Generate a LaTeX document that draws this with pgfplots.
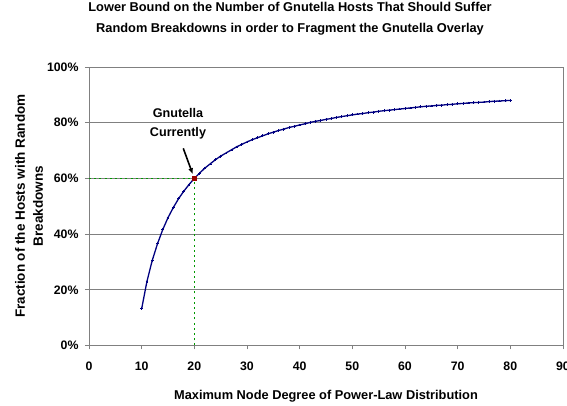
\documentclass[border=0pt]{standalone}
\usepackage{fontspec}
\setmainfont{Liberation Sans}
\usepackage{pgfplots}
\pgfplotsset{compat=1.18}
\usetikzlibrary{arrows.meta}
\definecolor{curve}{RGB}{0,0,128}
\definecolor{gridgray}{RGB}{128,128,128}
\definecolor{guide}{RGB}{0,153,0}
\definecolor{dot}{RGB}{153,0,0}

\begin{document}
\begin{tikzpicture}[x=1pt,y=1pt]
\begin{axis}[
  at={(0,0)}, anchor=south west,
  width=474pt, height=278.5pt, scale only axis,
  xmin=0, xmax=90, ymin=0, ymax=100,
  xtick={0,10,...,90}, ytick={0,20,...,100},
  yticklabels={0\%,20\%,40\%,60\%,80\%,100\%},
  ymajorgrids,
  major grid style={gridgray, line width=0.8pt},
  axis line style={gridgray, line width=0.8pt},
  tick style={gridgray, line width=0.8pt},
  tick align=outside, major tick length=4pt,
  xtick pos=lower, ytick pos=left,
  /pgf/number format/assume math mode=true,
  ticklabel style={font=\bfseries\fontsize{12.3}{14}\selectfont},
  xticklabel style={yshift=-9pt},
  yticklabel style={xshift=-3pt},
  xlabel={Maximum Node Degree of Power-Law Distribution},
  xlabel style={font=\bfseries\fontsize{12.8}{15}\selectfont,
    at={(axis description cs:0.5,0)}, anchor=center, yshift=-50.5pt},
  ylabel={Fraction of the Hosts with Random\\Breakdowns},
  ylabel style={font=\bfseries\fontsize{13.5}{18}\selectfont, align=center,
    at={(axis description cs:-0.1266,0.5)}, anchor=center},
  clip=false,
]
% guide lines to the current Gnutella point
\addplot[guide, line width=1.3pt, dash pattern=on 2pt off 3.2pt] coordinates {(0,60) (20,60)};
\addplot[guide, line width=1.3pt, dash pattern=on 2pt off 3.2pt] coordinates {(20,0) (20,60)};

\addplot[curve, line width=1.3pt, mark=+, mark size=1.4pt, mark options={line width=0.8pt}] coordinates {
(10,13.2) (11,23.0) (12,30.5) (13,36.5) (14,41.6) (15,45.9) (16,49.5) (17,52.7) (18,55.4) (19,57.8)
(20,60.0) (21,61.9) (22,63.7) (23,65.2) (24,66.7) (25,68.0) (26,69.1) (27,70.2) (28,71.3) (29,72.2)
(30,73.1) (31,73.9) (32,74.6) (33,75.3) (34,76.0) (35,76.6) (36,77.2) (37,77.7) (38,78.3) (39,78.7)
(40,79.2) (41,79.6) (42,80.1) (43,80.5) (44,80.8) (45,81.2) (46,81.5) (47,81.9) (48,82.2) (49,82.5)
(50,82.8) (51,83.1) (52,83.3) (53,83.6) (54,83.8) (55,84.1) (56,84.3) (57,84.5) (58,84.7) (59,84.9)
(60,85.1) (61,85.3) (62,85.5) (63,85.7) (64,85.9) (65,86.0) (66,86.2) (67,86.3) (68,86.5) (69,86.6)
(70,86.8) (71,86.9) (72,87.1) (73,87.2) (74,87.3) (75,87.4) (76,87.6) (77,87.7) (78,87.8) (79,87.9)
(80,88.0)
};
\addplot[only marks, mark=square*, mark size=1.8pt, dot] coordinates {(20,60)};

\node[align=center, font=\bfseries\fontsize{12.6}{19}\selectfont] at (axis cs:16.9,79.7) {Gnutella\\Currently};
\draw[-{Latex[length=6pt,width=5pt]}, line width=1.6pt] (axis cs:17.9,70.8) -- (axis cs:19.7,61.5);
\draw[gridgray, line width=0.8pt] (axis cs:90,0) -- (axis cs:90,100);
\end{axis}
\node[align=center, font=\bfseries\fontsize{12.8}{21}\selectfont] at (201,327) {Lower Bound on the Number of Gnutella Hosts That Should Suffer\\Random Breakdowns in order to Fragment the Gnutella Overlay};
\pgfresetboundingbox
\useasboundingbox (-89,-60.5) rectangle (478,345.5);
\end{tikzpicture}
\end{document}
